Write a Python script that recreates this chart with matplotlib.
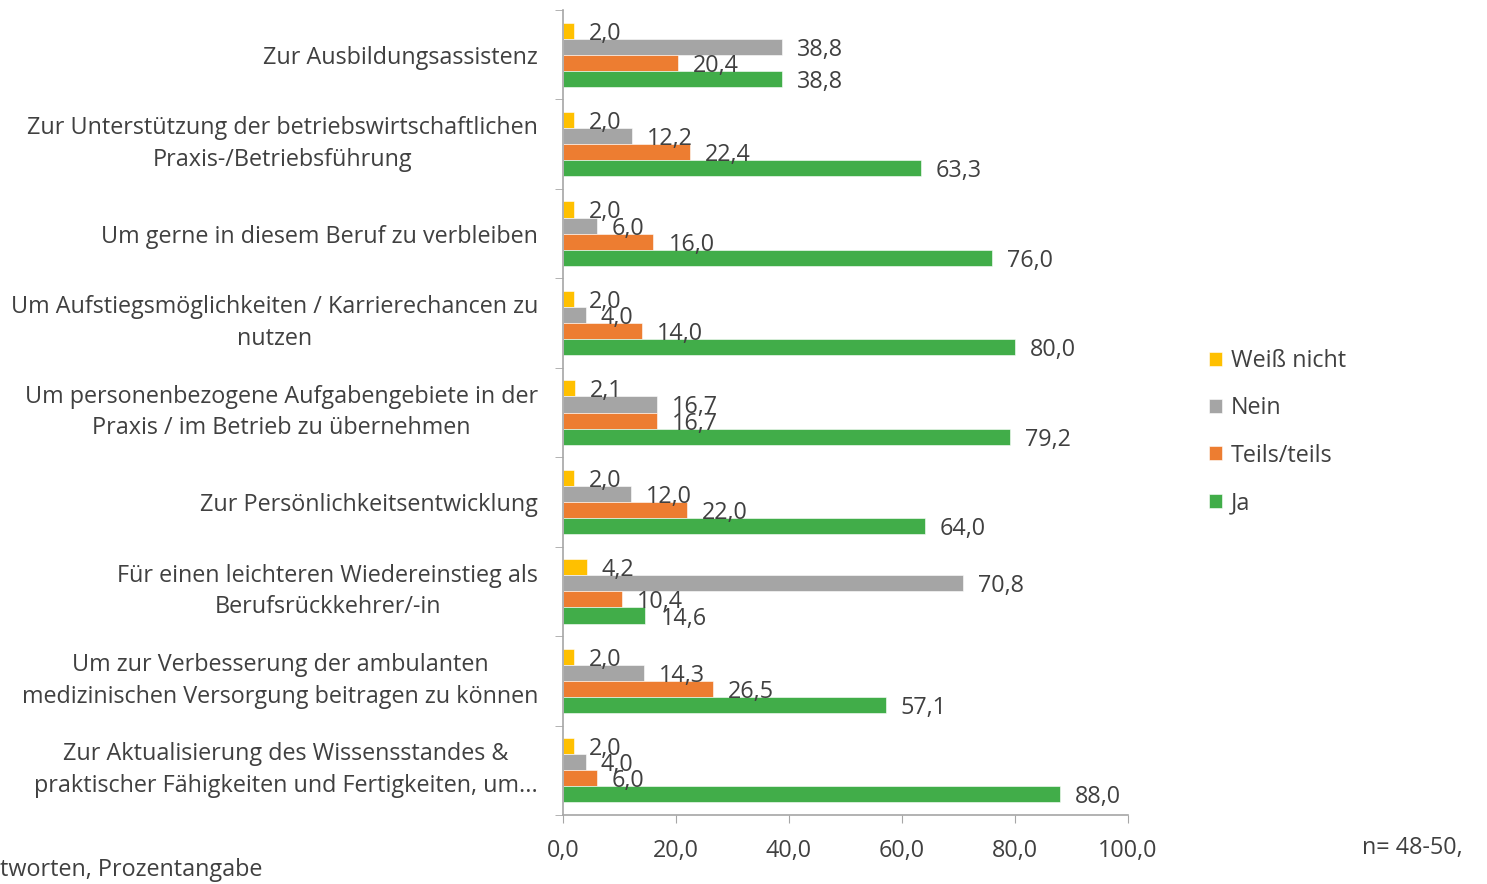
import matplotlib
matplotlib.use("Agg")
import matplotlib.pyplot as plt
import numpy as np

plt.rcParams['font.family'] = ['Open Sans', 'DejaVu Sans']

categories = [
    "Zur Ausbildungsassistenz",
    "Zur Unterstützung der betriebswirtschaftlichen\nPraxis-/Betriebsführung",
    "Um gerne in diesem Beruf zu verbleiben",
    "Um Aufstiegsmöglichkeiten / Karrierechancen zu\nnutzen",
    "Um personenbezogene Aufgabengebiete in der\nPraxis / im Betrieb zu übernehmen",
    "Zur Persönlichkeitsentwicklung",
    "Für einen leichteren Wiedereinstieg als\nBerufsrückkehrer/-in",
    "Um zur Verbesserung der ambulanten\nmedizinischen Versorgung beitragen zu können",
    "Zur Aktualisierung des Wissensstandes &\npraktischer Fähigkeiten und Fertigkeiten, um...",
]
weiss_nicht = [2.0, 2.0, 2.0, 2.0, 2.1, 2.0, 4.2, 2.0, 2.0]
nein = [38.8, 12.2, 6.0, 4.0, 16.7, 12.0, 70.8, 14.3, 4.0]
teils = [20.4, 22.4, 16.0, 14.0, 16.7, 22.0, 10.4, 26.5, 6.0]
ja = [38.8, 63.3, 76.0, 80.0, 79.2, 64.0, 14.6, 57.1, 88.0]

series_names = ["Weiß nicht", "Nein", "Teils/teils", "Ja"]
series = [weiss_nicht, nein, teils, ja]
colors = ["#FFC000", "#A5A5A5", "#ED7D31", "#41AD49"]
text_color = "#404040"
fs = 16.8

fig = plt.figure(figsize=(14.87, 8.84), dpi=100)
ax = fig.add_axes([563/1487, 1-815/884, (1128-563)/1487, (815-10)/884])

n = len(categories)
y = np.arange(n)
bh = 0.18
offsets = [-1.5*bh, -0.5*bh, 0.5*bh, 1.5*bh]
for vals, name, col, off in zip(series, series_names, colors, offsets):
    bars = ax.barh(y + off, vals, height=bh, color=col, label=name,
                   edgecolor='white', linewidth=0.4)
    for b, v in zip(bars, vals):
        ax.annotate(f"{v:.1f}".replace('.', ','),
                    (b.get_width(), b.get_y() + b.get_height()/2),
                    xytext=(15, -3), textcoords='offset pixels',
                    ha='left', va='center', fontsize=fs, color=text_color)

ax.set_ylim(n - 0.5, -0.5)
ax.set_xlim(0, 100)
ax.set_yticks(y)
ax.set_yticklabels(categories, fontsize=fs, color=text_color,
                   multialignment='center', linespacing=1.42)
for lbl in ax.get_yticklabels():
    if "\n" in lbl.get_text():
        lbl.set_va('center')
ax.set_yticks(np.arange(-0.5, n, 1), minor=True)
ax.tick_params(axis='y', which='major', length=0, pad=18)
ax.tick_params(axis='y', which='minor', length=6, color='#A6A6A6', direction='out')
ax.set_xticks(np.arange(0, 101, 20))
ax.set_xticklabels([f"{v:.1f}".replace('.', ',') for v in np.arange(0, 101, 20)],
                   fontsize=fs, color=text_color)
ax.tick_params(axis='x', length=6, color='#A6A6A6', direction='out', pad=11)

for s in ['top', 'right']:
    ax.spines[s].set_visible(False)
for s in ['left', 'bottom']:
    ax.spines[s].set_color('#A6A6A6')
    ax.spines[s].set_linewidth(1.2)

leg = fig.legend(loc='upper left', bbox_to_anchor=(1188/1487, 1-328/884),
                 frameon=False, fontsize=fs, handlelength=0.55, handleheight=0.55,
                 handletextpad=0.4, labelspacing=1.0, labelcolor=text_color)

fig.text(1362/1487, 1-848/884, "n= 48-50,", fontsize=fs, color=text_color,
         ha='left', va='center')
fig.text(0, 1-870/884, "tworten, Prozentangabe", fontsize=fs, color=text_color,
         ha='left', va='center')

fig.savefig("out.png", dpi=100)
